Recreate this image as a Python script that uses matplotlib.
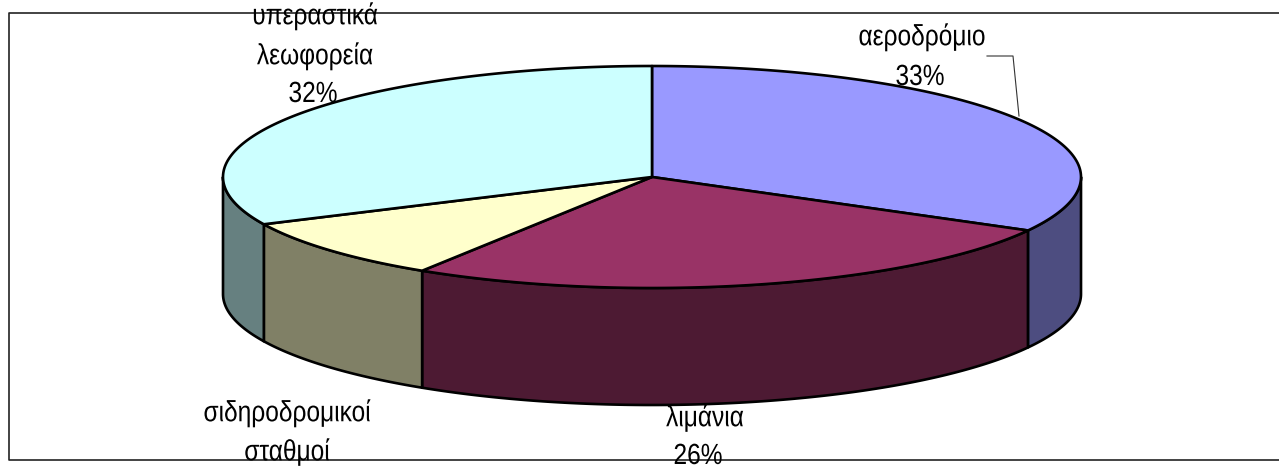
import numpy as np
import matplotlib
matplotlib.use("Agg")
import matplotlib.pyplot as plt
from matplotlib.patches import Polygon
from matplotlib.patheffects import AbstractPathEffect
from matplotlib.transforms import Affine2D

# share of passengers per terminal type, clockwise from 12 o'clock
shares = [33, 26, 9, 32]
top_colors = ["#9999FF", "#993366", "#FFFFCC", "#CCFFFF"]
side_colors = ["#4D4D80", "#4D1A33", "#808066", "#668080"]

# text lines of each label and the centre of every line
label_lines = [
    ["αεροδρόμιο", "33%"],
    ["λιμάνια", "26%"],
    ["σιδηροδρομικοί", "σταθμοί"],
    ["υπεραστικά", "λεωφορεία", "32%"],
]
label_x = [[922, 920], [705, 698], [287, 287], [315, 315, 313]]
label_y = [[37, 77], [418, 456], [413, 452], [16, 56, 94]]

plt.rcParams["font.family"] = ["Liberation Sans", "DejaVu Sans"]

cx, cy = 652, 177
rx, ry = 429, 111
depth = 117


class Squeeze(AbstractPathEffect):
    # narrows the glyphs around the anchor of the text
    def __init__(self, x0, sx):
        super().__init__()
        self.x0 = x0
        self.sx = sx

    def draw_path(self, renderer, gc, tpath, affine, rgbFace=None):
        narrow = affine + Affine2D().translate(-self.x0, 0).scale(self.sx, 1).translate(self.x0, 0)
        renderer.draw_path(gc, tpath, narrow, rgbFace)


def ellipse(a, b, y0):
    # angles in degrees clockwise from the top of the pie
    t = np.radians(np.linspace(a, b, max(int(abs(b - a) * 2), 2)))
    return np.column_stack([cx + rx * np.sin(t), y0 - ry * np.cos(t)])


fig = plt.figure(figsize=(12.79, 4.68), dpi=100)
ax = fig.add_axes([0, 0, 1, 1])
ax.set_xlim(0, 1279)
ax.set_ylim(468, 0)
ax.axis("off")

# chart frame, open at the right edge
ax.plot([1279, 9, 9, 1279], [12.5, 12.5, 460, 460], color="#222222", lw=1.2, zorder=1)

edges = np.concatenate([[0], np.cumsum(shares)]) / sum(shares) * 360

# walls of the front half
for i in range(len(shares)):
    a = max(edges[i], 90)
    b = min(edges[i + 1], 270)
    if a >= b:
        continue
    top = ellipse(a, b, cy)
    bottom = ellipse(a, b, cy + depth)
    ax.add_patch(Polygon(np.vstack([top, bottom[::-1]]), closed=True,
                         facecolor=side_colors[i], edgecolor="black", lw=1.9,
                         joinstyle="round", zorder=2))

# top face
for i in range(len(shares)):
    arc = ellipse(edges[i], edges[i + 1], cy)
    ax.add_patch(Polygon(np.vstack([[cx, cy], arc]), closed=True,
                         facecolor=top_colors[i], edgecolor="black", lw=1.9,
                         joinstyle="round", zorder=3))

# leader line of the first label
ax.plot([987, 1013, 1019], [56, 56, 116], color="#333333", lw=0.8, zorder=4)

for lines, xs, ys in zip(label_lines, label_x, label_y):
    for line, x, y in zip(lines, xs, ys):
        ax.text(x, y, line, ha="center", va="center", fontsize=21, color="black", zorder=5,
                path_effects=[Squeeze(x, 0.84)])

fig.savefig("out.png", dpi=100)
